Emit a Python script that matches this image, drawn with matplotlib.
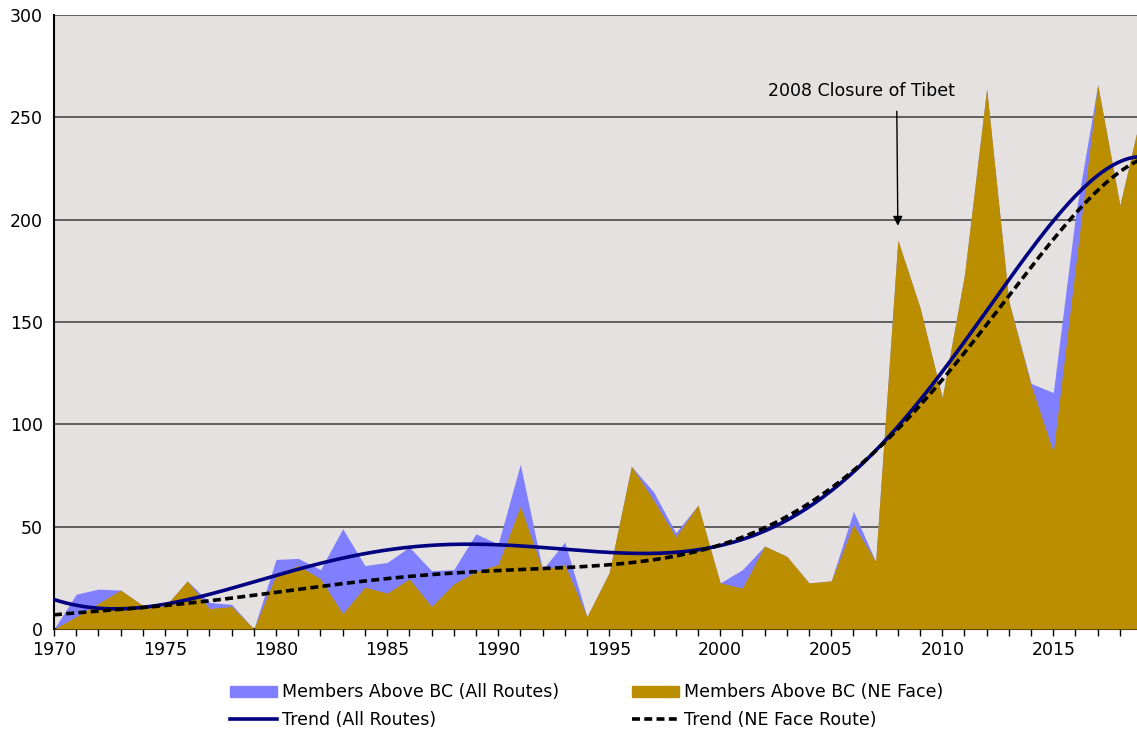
import numpy as np
import matplotlib.pyplot as plt
from matplotlib.patches import Patch
from matplotlib.lines import Line2D

# members above base camp per year
years = list(range(1970, 2020))
all_routes = [0, 17, 19.5, 19, 11.5, 11, 23.5, 13, 12, 0,
              34, 34.5, 29, 49, 31, 32.5, 40, 28.5, 29, 46.5,
              41.5, 80.5, 29, 42.5, 6, 27.5, 79.5, 67, 47, 60.5,
              22.5, 29, 40.5, 35.5, 22.5, 23.5, 57.5, 33, 190, 157,
              113, 173, 264, 160, 120, 115.5, 202, 266, 207, 254]
ne_face = [0, 6, 12.5, 19, 11.5, 11, 23.5, 10, 11, 0,
           26.5, 31, 24.5, 7.5, 20.5, 17.5, 24.5, 11, 22, 28,
           31.5, 60, 29, 31.5, 6, 27.5, 79.5, 63, 45, 60.5,
           22.5, 20, 40.5, 35.5, 22.5, 23.5, 51, 33, 190, 157,
           113, 173, 264, 160, 119, 86.5, 177, 266, 207, 254]

c_all = '#8080FF'
c_ne = '#BB8E00'
c_trend = '#000080'

x = np.array(years, dtype=float)
t = x - 1970
xs = np.linspace(1970, 2019, 400)
# 6th order polynomial trendlines, as in the spreadsheet
trend_all = np.polyval(np.polyfit(t, all_routes, 6), xs - 1970)
trend_ne = np.polyval(np.polyfit(t, ne_face, 6), xs - 1970)

fig = plt.figure(figsize=(11.37, 7.29), dpi=100)
ax = fig.add_axes([54 / 1137, 100 / 729, 1 - 54 / 1137, 614 / 729])
ax.set_facecolor('#E6E1E1')

ax.fill_between(x, all_routes, color=c_all, lw=0, zorder=2)
ax.fill_between(x, ne_face, color=c_ne, lw=0, zorder=3)
ax.plot(xs, trend_all, color=c_trend, lw=2.6, zorder=4)
ax.plot(xs, trend_ne, color='black', lw=2.6, ls=(0, (2.2, 1.2)), zorder=5)

ax.set_xlim(1970, 2018.77)
ax.set_ylim(0, 300)
ax.set_yticks(range(0, 301, 50))
ax.set_xticks(range(1970, 2016, 5))
ax.set_xticks(range(1970, 2019), minor=True)
ax.tick_params(axis='both', labelsize=12.5, direction='out', length=5, width=1)
ax.tick_params(axis='x', which='minor', length=5, width=1)
ax.tick_params(axis='y', length=0, pad=8)
ax.grid(axis='y', color='#555555', lw=1.3, zorder=1)
ax.set_axisbelow(True)
for s in ['top', 'right']:
    ax.spines[s].set_visible(False)
ax.spines['left'].set_linewidth(1.5)
ax.spines['bottom'].set_linewidth(1.5)

ax.annotate('2008 Closure of Tibet', xy=(2008, 197), xytext=(2006.35, 262.8),
            ha='center', va='center', fontsize=12.5,
            arrowprops=dict(arrowstyle='-|>', color='black', lw=1,
                            mutation_scale=14, shrinkA=6, shrinkB=0,
                            relpos=(0.69, 0)))

handles = [Patch(color=c_all, label='Members Above BC (All Routes)'),
           Line2D([], [], color=c_trend, lw=2.6, label='Trend (All Routes)'),
           Patch(color=c_ne, label='Members Above BC (NE Face)'),
           Line2D([], [], color='black', lw=2.6, ls=(0, (2.2, 1.2)),
                  label='Trend (NE Face Route)')]
fig.legend(handles=handles, ncol=2, loc='upper center',
           bbox_to_anchor=(0.516, 0.072), frameon=False, fontsize=12.5,
           handlelength=2.7, handleheight=0.6, handletextpad=0.3,
           columnspacing=4.2, labelspacing=0.55, borderaxespad=0)

fig.savefig('out.png', dpi=100)
